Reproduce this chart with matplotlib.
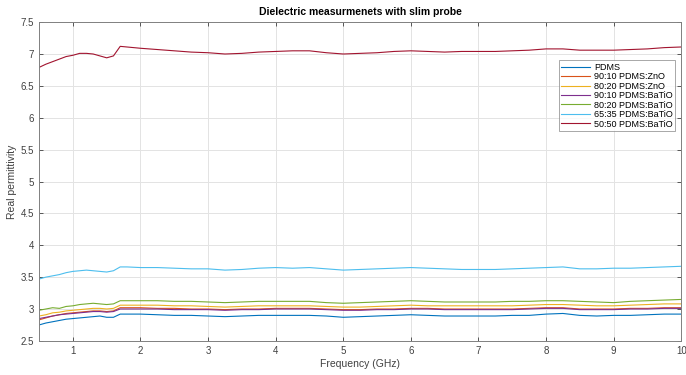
import matplotlib
matplotlib.use("Agg")
import matplotlib.pyplot as plt

# ─── DATA ──────────────────────────────────────────────────────────────────────
freq = [0.5, 0.6, 0.7, 0.8, 0.9, 1.0, 1.1, 1.2, 1.3, 1.4, 1.5, 1.6, 1.7, 1.8,
        2.0, 2.25, 2.5, 2.75, 3.0, 3.25, 3.5, 3.75, 4.0, 4.25, 4.5, 4.75,
        5.0, 5.25, 5.5, 5.75, 6.0, 6.25, 6.5, 6.75, 7.0, 7.25, 7.5, 7.75,
        8.0, 8.25, 8.5, 8.75, 9.0, 9.25, 9.5, 9.75, 10.0]

pdms = [2.75, 2.78, 2.80, 2.82, 2.84, 2.85, 2.86, 2.87, 2.88, 2.89, 2.87, 2.87, 2.92, 2.92,
        2.92, 2.91, 2.90, 2.90, 2.89, 2.88, 2.89, 2.90, 2.90, 2.90, 2.90, 2.89,
        2.87, 2.88, 2.89, 2.90, 2.91, 2.90, 2.89, 2.89, 2.89, 2.89, 2.90, 2.90,
        2.92, 2.93, 2.90, 2.89, 2.90, 2.90, 2.91, 2.92, 2.92]

zno_90 = [2.83, 2.86, 2.89, 2.91, 2.93, 2.94, 2.95, 2.96, 2.97, 2.97, 2.96, 2.97, 3.02, 3.02,
          3.02, 3.01, 3.01, 3.00, 3.00, 2.99, 3.00, 3.00, 3.01, 3.01, 3.01, 3.00,
          2.99, 2.99, 3.00, 3.00, 3.01, 3.01, 3.00, 3.00, 3.00, 3.00, 3.00, 3.01,
          3.02, 3.02, 3.00, 3.00, 3.00, 3.01, 3.01, 3.02, 3.02]

zno_80 = [2.89, 2.91, 2.94, 2.95, 2.97, 2.98, 2.99, 3.00, 3.01, 3.01, 3.00, 3.01, 3.06, 3.06,
          3.06, 3.06, 3.05, 3.05, 3.04, 3.03, 3.04, 3.05, 3.05, 3.05, 3.05, 3.04,
          3.03, 3.03, 3.04, 3.05, 3.06, 3.05, 3.05, 3.05, 3.05, 3.05, 3.05, 3.06,
          3.07, 3.07, 3.06, 3.05, 3.05, 3.06, 3.07, 3.08, 3.08]

bto_90 = [2.85, 2.87, 2.89, 2.91, 2.92, 2.93, 2.94, 2.95, 2.96, 2.96, 2.95, 2.96, 3.00, 3.00,
          3.00, 3.00, 2.99, 2.99, 2.99, 2.98, 2.99, 2.99, 3.00, 3.00, 3.00, 2.99,
          2.98, 2.98, 2.99, 2.99, 3.00, 3.00, 2.99, 2.99, 2.99, 2.99, 2.99, 3.00,
          3.01, 3.01, 2.99, 2.99, 2.99, 3.00, 3.00, 3.01, 3.01]

bto_80 = [2.98, 3.00, 3.02, 3.01, 3.04, 3.05, 3.07, 3.08, 3.09, 3.08, 3.07, 3.08, 3.13, 3.13,
          3.13, 3.13, 3.12, 3.12, 3.11, 3.10, 3.11, 3.12, 3.12, 3.12, 3.12, 3.10,
          3.09, 3.10, 3.11, 3.12, 3.13, 3.12, 3.11, 3.11, 3.11, 3.11, 3.12, 3.12,
          3.13, 3.13, 3.12, 3.11, 3.10, 3.12, 3.13, 3.14, 3.15]

bto_65 = [3.47, 3.50, 3.52, 3.54, 3.57, 3.59, 3.60, 3.61, 3.60, 3.59, 3.58, 3.60, 3.66, 3.66,
          3.65, 3.65, 3.64, 3.63, 3.63, 3.61, 3.62, 3.64, 3.65, 3.64, 3.65, 3.63,
          3.61, 3.62, 3.63, 3.64, 3.65, 3.64, 3.63, 3.62, 3.62, 3.62, 3.63, 3.64,
          3.65, 3.66, 3.63, 3.63, 3.64, 3.64, 3.65, 3.66, 3.67]

bto_50 = [6.79, 6.84, 6.88, 6.92, 6.96, 6.98, 7.01, 7.01, 7.00, 6.97, 6.94, 6.97, 7.12, 7.11,
          7.09, 7.07, 7.05, 7.03, 7.02, 7.00, 7.01, 7.03, 7.04, 7.05, 7.05, 7.02,
          7.00, 7.01, 7.02, 7.04, 7.05, 7.04, 7.03, 7.04, 7.04, 7.04, 7.05, 7.06,
          7.08, 7.08, 7.06, 7.06, 7.06, 7.07, 7.08, 7.10, 7.11]

series = [pdms, zno_90, zno_80, bto_90, bto_80, bto_65, bto_50]
labels = ["PDMS", "90:10 PDMS:ZnO", "80:20 PDMS:ZnO", "90:10 PDMS:BaTiO",
          "80:20 PDMS:BaTiO", "65:35 PDMS:BaTiO", "50:50 PDMS:BaTiO"]
colors = ["#0072BD", "#D95319", "#EDB120", "#7E2F8E", "#77AC30", "#4DBEEE", "#A2142F"]
x_ticks = [1, 2, 3, 4, 5, 6, 7, 8, 9, 10]
y_ticks = [2.5, 3, 3.5, 4, 4.5, 5, 5.5, 6, 6.5, 7, 7.5]

plt.rcParams["font.family"] = ["Liberation Sans", "DejaVu Sans"]

fig = plt.figure(figsize=(6.86, 3.75), dpi=100)
ax = fig.add_axes([0.057, 0.091, 0.936, 0.850])

for y, lab, c in zip(series, labels, colors):
    ax.plot(freq, y, color=c, lw=0.8, label=lab)

ax.set_xlim(0.5, 10)
ax.set_ylim(2.5, 7.5)
ax.set_xticks(x_ticks)
ax.set_xticklabels([f"{t:g}" for t in x_ticks])
ax.set_yticks(y_ticks)
ax.set_yticklabels([f"{t:g}" for t in y_ticks])

ax.grid(True, color="#e3e3e3", lw=0.7)
ax.set_axisbelow(True)
ax.tick_params(direction="in", top=True, right=True, length=3, width=0.6,
               labelsize=7, colors="#404040")
for sp in ax.spines.values():
    sp.set_color("#808080")
    sp.set_linewidth(0.7)

ax.set_xlabel("Frequency (GHz)", fontsize=7.5, color="#404040", labelpad=2)
ax.set_ylabel("Real permittivity", fontsize=7.5, color="#404040", labelpad=3)
ax.set_title("Dielectric measurmenets with slim probe", fontsize=7.5,
             fontweight="bold", pad=5)

leg = ax.legend(loc="upper right", bbox_to_anchor=(0.998, 0.895), fontsize=6.5,
                frameon=True, fancybox=False, edgecolor="#808080",
                handlelength=3.2, borderpad=0.3, labelspacing=0.05,
                handletextpad=0.4)
leg.get_frame().set_linewidth(0.6)

fig.savefig("out.png", dpi=100)
